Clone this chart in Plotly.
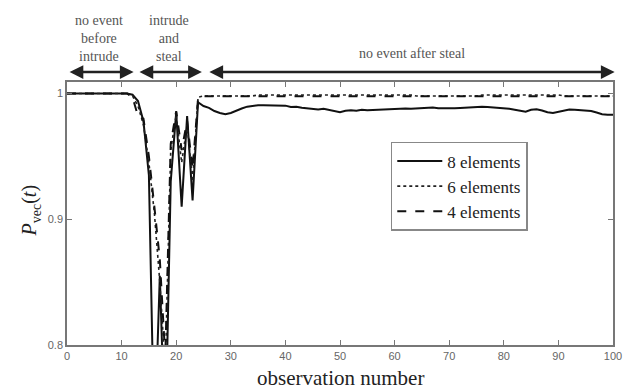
import plotly.graph_objects as go

obs = list(range(0, 101))

before = [1.0] * 12  # observations 0..11

# 8 elements (solid)
el8_dip = [0.999, 0.994, 0.978, 0.935, 0.72, 0.855, 0.72, 0.93, 0.985, 0.91, 0.982, 0.915, 0.993]  # 12..24
el8_after = [0.990, 0.9885, 0.986, 0.9845, 0.9835, 0.9845, 0.9865, 0.988, 0.9895, 0.9903, 0.9906,
             0.9907, 0.9907, 0.9906, 0.9905, 0.9903, 0.9892, 0.9895, 0.9886, 0.988, 0.9878, 0.9872,
             0.9878, 0.9868, 0.9858, 0.985, 0.9862, 0.9866, 0.9862, 0.987, 0.9866, 0.9868, 0.9872,
             0.9875, 0.9878, 0.9875, 0.9878, 0.988, 0.9878, 0.988, 0.9885, 0.9882, 0.9889, 0.9882,
             0.988, 0.988, 0.9882, 0.9885, 0.9888, 0.989, 0.9895, 0.9895, 0.9893, 0.989, 0.9885,
             0.9882, 0.9878, 0.987, 0.986, 0.9855, 0.987, 0.9875, 0.9865, 0.985, 0.9845, 0.9855,
             0.9865, 0.9872, 0.987, 0.9865, 0.986, 0.986, 0.9848, 0.9835, 0.983, 0.983]  # 25..100

# 6 elements (dotted)
el6_dip = [0.998, 0.990, 0.975, 0.945, 0.905, 0.85, 0.78, 0.955, 0.983, 0.945, 0.975, 0.93, 0.997]
el6_after = ([0.998] * 10 + [0.9988] * 29 + [0.998] * 12 + [0.9988] * 15 + [0.998] * 10)

# 4 elements (dashed)
el4_dip = [0.997, 0.982, 0.980, 0.950, 0.910, 0.868, 0.79, 0.96, 0.986, 0.955, 0.978, 0.94, 0.996]
el4_after = [0.9978] * 76

el8 = before + el8_dip + el8_after
el6 = before + el6_dip + el6_after
el4 = before + el4_dip + el4_after

series_names = ["8 elements", "6 elements", "4 elements"]
x_ticks = [0, 10, 20, 30, 40, 50, 60, 70, 80, 90, 100]
y_ticks = [0.8, 0.9, 1.0]
y_ticktext = ["0.8", "0.9", "1"]

serif = "Liberation Serif"
tickfont = dict(family="Liberation Sans Narrow, Liberation Sans, Arial, sans-serif", size=11, color="#666")

fig = go.Figure()
fig.add_trace(go.Scatter(x=obs, y=el8, mode="lines", name=series_names[0],
                         line=dict(color="#111", width=2, dash="solid")))
fig.add_trace(go.Scatter(x=obs, y=el6, mode="lines", name=series_names[1],
                         line=dict(color="#222", width=1.6, dash="dot")))
fig.add_trace(go.Scatter(x=obs, y=el4, mode="lines", name=series_names[2],
                         line=dict(color="#111", width=2, dash="dash")))

axis_common = dict(showgrid=False, zeroline=False, showline=True, linecolor="#777", linewidth=1.5,
                   mirror="ticks", ticks="inside", ticklen=5, tickcolor="#777", tickwidth=1,
                   tickfont=tickfont, ticklabeloverflow="allow")

fig.update_xaxes(range=[0, 100], tickvals=x_ticks, **axis_common)
fig.update_yaxes(range=[0.8, 1.0091], tickvals=y_ticks, ticktext=y_ticktext, **axis_common)

annotations = [
    dict(text="observation number", x=0.5, y=-0.125, xref="paper", yref="paper",
         showarrow=False, font=dict(family=serif, size=21, color="#222"), xanchor="center", yanchor="middle"),
    dict(text="<i>P</i><sub>vec</sub>(<i>t</i>)", x=-0.067, y=0.513, xref="paper", yref="paper",
         showarrow=False, textangle=-90, font=dict(family=serif, size=20, color="#222"),
         xanchor="center", yanchor="middle"),
    dict(text="no event<br>before<br>intrude", x=5.95, y=1.167, xref="x", yref="paper",
         showarrow=False, font=dict(family=serif, size=14, color="#555"), xanchor="center", yanchor="middle"),
    dict(text="intrude<br>and<br>steal", x=18.6, y=1.167, xref="x", yref="paper",
         showarrow=False, font=dict(family=serif, size=14, color="#555"), xanchor="center", yanchor="middle"),
    dict(text="no event after steal", x=63.2, y=1.110, xref="x", yref="paper",
         showarrow=False, font=dict(family=serif, size=14, color="#555"), xanchor="center", yanchor="middle"),
]

arrow_spans = [(0.2, 12.2), (13.0, 24.7), (25.8, 100.3)]
for a, b in arrow_spans:
    annotations.append(dict(text="", x=b, y=1.038, xref="x", yref="paper", ax=a, ay=0,
                            axref="x", ayref="pixel", showarrow=True, arrowhead=2, arrowside="end+start",
                            arrowsize=1.1, arrowwidth=2.5, arrowcolor="#222"))

fig.update_layout(
    width=626, height=390,
    margin=dict(l=67, r=4, t=82, b=45),
    paper_bgcolor="white", plot_bgcolor="white",
    annotations=annotations,
    legend=dict(x=0.593, y=0.772, xanchor="left", yanchor="top",
                bgcolor="white", bordercolor="#888", borderwidth=1.5,
                font=dict(family=serif, size=17, color="#222"),
                tracegroupgap=0, itemwidth=45),
    showlegend=True,
)

fig.write_html("out.html", config={"displayModeBar": False},
               post_script="document.body.style.margin='0';document.body.style.overflow='hidden';")
